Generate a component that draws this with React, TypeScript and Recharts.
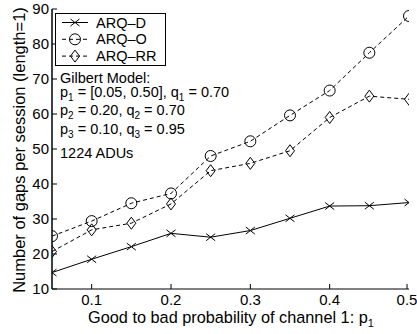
import { Line, LineChart, XAxis, YAxis } from 'recharts'

const P1 = [0.05, 0.1, 0.15, 0.2, 0.25, 0.3, 0.35, 0.4, 0.45, 0.5]
const ARQ_D = [14.7, 18.5, 22.1, 25.9, 24.8, 26.7, 30.2, 33.7, 33.8, 34.7]
const ARQ_O = [25.1, 29.4, 34.5, 37.3, 48.0, 52.2, 59.6, 66.7, 77.5, 88.0]
const ARQ_RR = [20.7, 26.9, 28.8, 34.3, 43.8, 45.9, 49.5, 59.0, 65.1, 64.2]
const X_TICKS = [0.1, 0.2, 0.3, 0.4, 0.5]
const Y_TICKS = [10, 20, 30, 40, 50, 60, 70, 80, 90]

const data = P1.map((p, i) => ({ p, d: ARQ_D[i], o: ARQ_O[i], rr: ARQ_RR[i] }))

const FONT = '"Liberation Sans", Arial, Helvetica, sans-serif'
const W = 417
const H = 334
const TICK_LEN = 5

function Cross({ cx, cy }: { cx: number; cy: number }) {
  return (
    <path d={`M${cx - 4.5},${cy - 3.5}L${cx + 4.5},${cy + 3.5}M${cx - 4.5},${cy + 3.5}L${cx + 4.5},${cy - 3.5}`} stroke="#000" strokeWidth={1} fill="none" />
  )
}

function Ring({ cx, cy }: { cx: number; cy: number }) {
  return <circle cx={cx} cy={cy} r={5.5} stroke="#000" strokeWidth={1} fill="none" />
}

function Diamond({ cx, cy }: { cx: number; cy: number }) {
  return (
    <path d={`M${cx},${cy - 6}L${cx + 4.5},${cy}L${cx},${cy + 6}L${cx - 4.5},${cy}Z`} stroke="#000" strokeWidth={1} fill="none" />
  )
}

function dotOf(Marker: any) {
  return (props: any) => {
    const { cx, cy, index } = props
    if (cx == null || cy == null) return <g key={index} />
    return <Marker key={index} cx={cx} cy={cy} />
  }
}

function BottomTick(props: any) {
  const { x, y, payload } = props
  return (
    <g>
      <line x1={x} x2={x} y1={y} y2={y - TICK_LEN} stroke="#000" />
      <text x={x} y={y + 16} textAnchor="middle" fontSize={15} fontFamily={FONT} fill="#000">
        {payload.value}
      </text>
    </g>
  )
}

function LeftTick(props: any) {
  const { x, y, payload } = props
  return (
    <g>
      <line x1={x} x2={x + TICK_LEN} y1={y} y2={y} stroke="#000" />
      <text x={x - 3} y={y + 5} textAnchor="end" fontSize={15} fontFamily={FONT} fill="#000">
        {payload.value}
      </text>
    </g>
  )
}

function TopTick(props: any) {
  const { x, y } = props
  return <line x1={x} x2={x} y1={y} y2={y + TICK_LEN} stroke="#000" />
}

function RightTick(props: any) {
  const { x, y } = props
  return <line x1={x} x2={x - TICK_LEN} y1={y} y2={y} stroke="#000" />
}

const LEGEND = [
  { name: 'ARQ–D', Marker: Cross, dash: undefined },
  { name: 'ARQ–O', Marker: Ring, dash: '4 3' },
  { name: 'ARQ–RR', Marker: Diamond, dash: '4 3' },
]

function Overlay() {
  const txt = { fontFamily: FONT, fontSize: 14.5, fill: '#000' }
  const sub = { fontSize: 10 }
  return (
    <svg width={W} height={H} style={{ position: 'absolute', left: 0, top: 0, pointerEvents: 'none' }}>
      <rect x={55.5} y={13.5} width={110} height={52} fill="#fff" stroke="#000" />
      {LEGEND.map((l, i) => {
        const y = 22.5 + i * 16.8
        return (
          <g key={l.name}>
            <line x1={62} x2={88} y1={y} y2={y} stroke="#000" strokeDasharray={l.dash} />
            <l.Marker cx={75} cy={y} />
            <text x={96} y={y + 5} {...txt}>{l.name}</text>
          </g>
        )
      })}
      <text x={60} y={82.5} {...txt}>Gilbert Model:</text>
      <text x={60} y={96.5} {...txt}>
        p<tspan dy={4} {...sub}>1</tspan><tspan dy={-4}> = [0.05, 0.50], q</tspan><tspan dy={4} {...sub}>1</tspan><tspan dy={-4}> = 0.70</tspan>
      </text>
      <text x={60} y={115} {...txt}>
        p<tspan dy={4} {...sub}>2</tspan><tspan dy={-4}> = 0.20, q</tspan><tspan dy={4} {...sub}>2</tspan><tspan dy={-4}> = 0.70</tspan>
      </text>
      <text x={60} y={134} {...txt}>
        p<tspan dy={4} {...sub}>3</tspan><tspan dy={-4}> = 0.10, q</tspan><tspan dy={4} {...sub}>3</tspan><tspan dy={-4}> = 0.95</tspan>
      </text>
      <text x={60} y={158} {...txt}>1224 ADUs</text>
      <text x={231} y={323} textAnchor="middle" fontFamily={FONT} fontSize={16.3} fill="#000">
        Good to bad probability of channel 1: p<tspan dy={4} fontSize={11}>1</tspan>
      </text>
      <text transform="translate(25,150) rotate(-90)" textAnchor="middle" fontFamily={FONT} fontSize={16.5} fill="#000">
        Number of gaps per session (length=1)
      </text>
    </svg>
  )
}

export default function App() {
  return (
    <div style={{ position: 'absolute', left: 0, top: 0, width: W, height: H, background: '#fff' }}>
      <LineChart width={W} height={H} data={data} margin={{ top: 9, right: 8, bottom: 0, left: 0 }}>
        <XAxis
          dataKey="p"
          type="number"
          domain={[0.05, 0.5]}
          ticks={X_TICKS}
          height={45}
          tickSize={0}
          tickMargin={0}
          tick={<BottomTick />}
          tickLine={false}
          axisLine={{ stroke: '#000' }}
          allowDataOverflow
        />
        <XAxis
          xAxisId="top"
          orientation="top"
          dataKey="p"
          type="number"
          domain={[0.05, 0.5]}
          ticks={X_TICKS}
          height={0}
          tickSize={0}
          tickMargin={0}
          tick={<TopTick />}
          tickLine={false}
          axisLine={{ stroke: '#000' }}
        />
        <YAxis
          type="number"
          domain={[10, 90]}
          ticks={Y_TICKS}
          width={52}
          tickSize={0}
          tickMargin={0}
          tick={<LeftTick />}
          tickLine={false}
          axisLine={{ stroke: '#000', strokeWidth: 1.5 }}
          allowDataOverflow
        />
        <YAxis
          yAxisId="right"
          orientation="right"
          type="number"
          domain={[10, 90]}
          ticks={Y_TICKS}
          width={0}
          tickSize={0}
          tickMargin={0}
          tick={<RightTick />}
          tickLine={false}
          axisLine={{ stroke: '#000' }}
        />
        <Line dataKey="d" stroke="#000" strokeWidth={1} dot={dotOf(Cross)} activeDot={false} isAnimationActive={false} />
        <Line dataKey="o" stroke="#000" strokeWidth={1} strokeDasharray="4 3" dot={dotOf(Ring)} activeDot={false} isAnimationActive={false} />
        <Line dataKey="rr" stroke="#000" strokeWidth={1} strokeDasharray="4 3" dot={dotOf(Diamond)} activeDot={false} isAnimationActive={false} />
        <Line xAxisId="top" yAxisId="right" dataKey="o" stroke="transparent" dot={false} activeDot={false} legendType="none" isAnimationActive={false} />
      </LineChart>
      <Overlay />
    </div>
  )
}
